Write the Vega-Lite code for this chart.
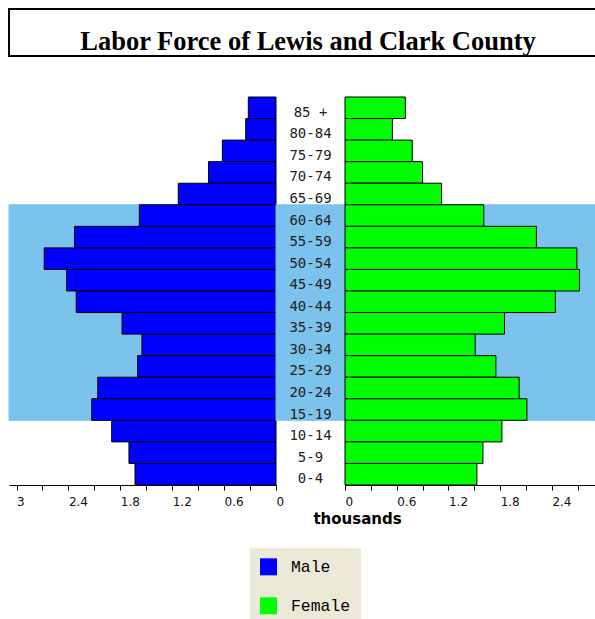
{
  "$schema": "https://vega.github.io/schema/vega-lite/v6.json",
  "padding": {"left": 8, "top": 8, "right": 0, "bottom": 0},
  "background": "white",
  "config": {
    "view": {"stroke": null},
    "font": "DejaVu Sans",
    "axis": {
      "grid": false,
      "domainColor": "black",
      "tickColor": "black",
      "tickSize": 5,
      "labelFont": "DejaVu Sans",
      "labelFontSize": 12,
      "labelColor": "#111111",
      "labelAlign": "left",
      "labelBaseline": "alphabetic",
      "labelPadding": 15,
      "labelFlush": false,
      "labelOverlap": false
    },
    "legend": {
      "fillColor": "#ECE9D8",
      "padding": 10,
      "symbolType": "square",
      "symbolSize": 289,
      "symbolStrokeWidth": 0,
      "symbolOpacity": 1,
      "labelFont": "Liberation Mono",
      "labelFontSize": 16.4,
      "labelColor": "black",
      "labelOffset": 14,
      "rowPadding": 22,
      "direction": "vertical"
    }
  },
  "datasets": {
    "ages": [
      {"age": "85 +", "male": 0.32, "female": 0.70, "labor": false},
      {"age": "80-84", "male": 0.35, "female": 0.55, "labor": false},
      {"age": "75-79", "male": 0.62, "female": 0.78, "labor": false},
      {"age": "70-74", "male": 0.78, "female": 0.90, "labor": false},
      {"age": "65-69", "male": 1.13, "female": 1.12, "labor": false},
      {"age": "60-64", "male": 1.58, "female": 1.61, "labor": true},
      {"age": "55-59", "male": 2.33, "female": 2.22, "labor": true},
      {"age": "50-54", "male": 2.68, "female": 2.69, "labor": true},
      {"age": "45-49", "male": 2.42, "female": 2.72, "labor": true},
      {"age": "40-44", "male": 2.31, "female": 2.44, "labor": true},
      {"age": "35-39", "male": 1.78, "female": 1.85, "labor": true},
      {"age": "30-34", "male": 1.55, "female": 1.51, "labor": true},
      {"age": "25-29", "male": 1.60, "female": 1.75, "labor": true},
      {"age": "20-24", "male": 2.06, "female": 2.02, "labor": true},
      {"age": "15-19", "male": 2.13, "female": 2.11, "labor": true},
      {"age": "10-14", "male": 1.90, "female": 1.82, "labor": false},
      {"age": "5-9", "male": 1.70, "female": 1.60, "labor": false},
      {"age": "0-4", "male": 1.63, "female": 1.53, "labor": false}
    ],
    "heading": [{"text": "Labor Force of Lewis and Clark County"}]
  },
  "bounds": "flush",
  "spacing": 41,
  "resolve": {"scale": {"color": "shared"}, "legend": {"color": "shared"}},
  "vconcat": [
    {
      "width": 600,
      "height": 47,
      "data": {"name": "heading"},
      "layer": [
        {
          "mark": {"type": "rect", "fill": "white", "stroke": "black", "strokeWidth": 2},
          "encoding": {}
        },
        {
          "mark": {"type": "text", "font": "Liberation Serif", "fontWeight": "bold", "fontSize": 26.5, "baseline": "alphabetic", "dy": 17, "dx": -1, "color": "black"},
          "encoding": {
            "text": {"field": "text"},
            "x": {"field": "text", "type": "nominal", "scale": {"type": "point"}, "axis": null},
            "y": {"field": "text", "type": "nominal", "scale": {"type": "point"}, "axis": null}
          }
        }
      ]
    },
    {
      "bounds": "flush",
      "spacing": 0,
      "resolve": {"scale": {"color": "shared"}, "legend": {"color": "shared"}},
      "hconcat": [
        {
          "width": 267,
          "height": 388,
          "data": {"name": "ages"},
          "layer": [
            {
              "transform": [{"filter": "datum.labor"}],
              "mark": {"type": "rect", "fill": "#7bc3ec", "stroke": "#7bc3ec", "strokeWidth": 1},
              "encoding": {
                "y": {"field": "age", "type": "nominal", "scale": {"domain": ["85 +", "80-84", "75-79", "70-74", "65-69", "60-64", "55-59", "50-54", "45-49", "40-44", "35-39", "30-34", "25-29", "20-24", "15-19", "10-14", "5-9", "0-4"], "paddingInner": 0, "paddingOuter": 0}, "axis": null}
              }
            },
            {
              "mark": {"type": "bar", "stroke": "black", "strokeWidth": 1},
              "encoding": {
                "y": {"field": "age", "type": "nominal", "scale": {"domain": ["85 +", "80-84", "75-79", "70-74", "65-69", "60-64", "55-59", "50-54", "45-49", "40-44", "35-39", "30-34", "25-29", "20-24", "15-19", "10-14", "5-9", "0-4"], "paddingInner": 0, "paddingOuter": 0}, "axis": null},
                "x": {
                  "field": "male", "type": "quantitative",
                  "scale": {"domain": [0, 3.087], "reverse": true, "nice": false, "zero": true},
                  "axis": {
                    "title": null,
                    "values": [0, 0.3, 0.6, 0.9, 1.2, 1.5, 1.8, 2.1, 2.4, 2.7, 3],
                    "labelExpr": "round(datum.value*10) % 6 == 0 ? format(datum.value, '~g') : ''"
                  }
                },
                "color": {
                  "datum": "Male", "type": "nominal",
                  "scale": {"domain": ["Male", "Female"], "range": ["#0000ff", "#00ff00"]},
                  "legend": {"orient": "none", "legendX": 241, "legendY": 539.3, "title": null}
                }
              }
            }
          ]
        },
        {
          "width": 69,
          "height": 388,
          "data": {"name": "ages"},
          "layer": [
            {
              "transform": [{"filter": "datum.labor"}],
              "mark": {"type": "rect", "fill": "#7bc3ec", "stroke": "#7bc3ec", "strokeWidth": 1},
              "encoding": {
                "y": {"field": "age", "type": "nominal", "scale": {"domain": ["85 +", "80-84", "75-79", "70-74", "65-69", "60-64", "55-59", "50-54", "45-49", "40-44", "35-39", "30-34", "25-29", "20-24", "15-19", "10-14", "5-9", "0-4"], "paddingInner": 0, "paddingOuter": 0}, "axis": null}
              }
            },
            {
              "mark": {"type": "text", "font": "DejaVu Sans Mono", "fontSize": 14, "baseline": "alphabetic", "dy": 9, "color": "#222222", "align": "center"},
              "encoding": {
                "y": {"field": "age", "type": "nominal", "scale": {"domain": ["85 +", "80-84", "75-79", "70-74", "65-69", "60-64", "55-59", "50-54", "45-49", "40-44", "35-39", "30-34", "25-29", "20-24", "15-19", "10-14", "5-9", "0-4"], "paddingInner": 0, "paddingOuter": 0}, "axis": null},
                "x": {"datum": 0, "type": "quantitative", "scale": {"domain": [-1, 1], "nice": false}, "axis": null},
                "text": {"field": "age"}
              }
            }
          ]
        },
        {
          "width": 250,
          "height": 388,
          "data": {"name": "ages"},
          "layer": [
            {
              "transform": [{"filter": "datum.labor"}],
              "mark": {"type": "rect", "fill": "#7bc3ec", "stroke": "#7bc3ec", "strokeWidth": 1},
              "encoding": {
                "y": {"field": "age", "type": "nominal", "scale": {"domain": ["85 +", "80-84", "75-79", "70-74", "65-69", "60-64", "55-59", "50-54", "45-49", "40-44", "35-39", "30-34", "25-29", "20-24", "15-19", "10-14", "5-9", "0-4"], "paddingInner": 0, "paddingOuter": 0}, "axis": null}
              }
            },
            {
              "mark": {"type": "bar", "stroke": "black", "strokeWidth": 1},
              "encoding": {
                "y": {"field": "age", "type": "nominal", "scale": {"domain": ["85 +", "80-84", "75-79", "70-74", "65-69", "60-64", "55-59", "50-54", "45-49", "40-44", "35-39", "30-34", "25-29", "20-24", "15-19", "10-14", "5-9", "0-4"], "paddingInner": 0, "paddingOuter": 0}, "axis": null},
                "x": {
                  "field": "female", "type": "quantitative",
                  "scale": {"domain": [0, 2.9], "nice": false, "zero": true},
                  "axis": {
                    "title": "thousands",
                    "titleFont": "DejaVu Sans",
                    "titleFontWeight": "bold",
                    "titleFontSize": 15,
                    "titleColor": "black",
                    "titleX": 12,
                    "titleY": 38,
                    "titleAlign": "center",
                    "titleBaseline": "alphabetic",
                    "values": [0, 0.3, 0.6, 0.9, 1.2, 1.5, 1.8, 2.1, 2.4, 2.7],
                    "labelExpr": "round(datum.value*10) % 6 == 0 ? format(datum.value, '~g') : ''"
                  }
                },
                "color": {
                  "datum": "Female", "type": "nominal",
                  "scale": {"domain": ["Male", "Female"], "range": ["#0000ff", "#00ff00"]},
                  "legend": {"orient": "none", "legendX": 241, "legendY": 539.3, "title": null}
                }
              }
            }
          ]
        }
      ]
    }
  ]
}
